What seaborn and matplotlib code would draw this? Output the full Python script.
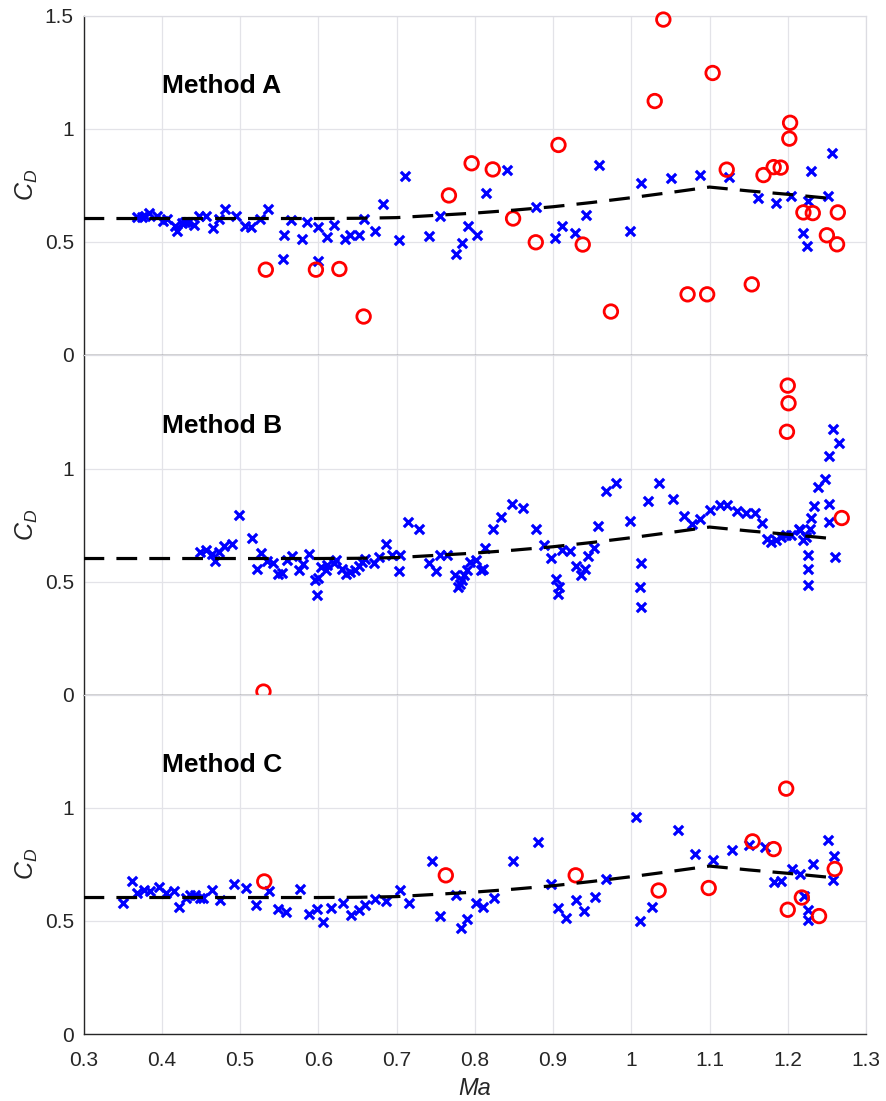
import numpy as np
import pandas as pd
import seaborn as sns
import matplotlib
matplotlib.use("Agg")
import matplotlib.pyplot as plt

# Reference curve (same in every panel)
trend_ma = [0.3, 0.4, 0.5, 0.6, 0.65, 0.7, 0.75, 0.8, 0.85, 0.9, 0.95, 1.0, 1.05, 1.1, 1.15, 1.2, 1.26]
trend_cd = [0.603, 0.603, 0.603, 0.603, 0.604, 0.607, 0.617, 0.627, 0.640, 0.655, 0.674, 0.695, 0.718, 0.742, 0.725, 0.710, 0.690]

# Method A
a_ok_ma = [0.368, 0.375, 0.379, 0.384, 0.394, 0.402, 0.407, 0.417, 0.419, 0.426,
           0.430, 0.434, 0.441, 0.448, 0.456, 0.466, 0.473, 0.481, 0.495, 0.506,
           0.514, 0.525, 0.536, 0.556, 0.555, 0.565, 0.579, 0.586, 0.600, 0.600,
           0.611, 0.620, 0.634, 0.641, 0.652, 0.659, 0.672, 0.683, 0.703, 0.711,
           0.742, 0.755, 0.776, 0.784, 0.792, 0.803, 0.814, 0.841, 0.878, 0.902,
           0.911, 0.928, 0.942, 0.959, 0.999, 1.012, 1.051, 1.088, 1.125, 1.162,
           1.185, 1.204, 1.226, 1.220, 1.225, 1.230, 1.251, 1.257]
a_ok_cd = [0.610, 0.610, 0.616, 0.628, 0.616, 0.591, 0.602, 0.569, 0.547, 0.584,
           0.587, 0.587, 0.576, 0.613, 0.613, 0.562, 0.602, 0.643, 0.616, 0.569,
           0.566, 0.602, 0.643, 0.528, 0.424, 0.596, 0.513, 0.587, 0.565, 0.414,
           0.520, 0.576, 0.513, 0.532, 0.532, 0.599, 0.550, 0.665, 0.507, 0.791,
           0.525, 0.616, 0.448, 0.495, 0.569, 0.529, 0.717, 0.816, 0.653, 0.516,
           0.569, 0.539, 0.618, 0.839, 0.547, 0.761, 0.780, 0.794, 0.788, 0.695,
           0.672, 0.702, 0.680, 0.539, 0.483, 0.813, 0.702, 0.891]
a_out_ma = [0.533, 0.597, 0.627, 0.658, 0.767, 0.796, 0.823, 0.849, 0.878, 0.907,
            0.938, 0.974, 1.030, 1.041, 1.072, 1.097, 1.104, 1.122, 1.154, 1.169,
            1.182, 1.191, 1.202, 1.203, 1.220, 1.232, 1.250, 1.264, 1.263]
a_out_cd = [0.377, 0.377, 0.380, 0.170, 0.705, 0.847, 0.820, 0.603, 0.498, 0.928,
            0.488, 0.192, 1.122, 1.482, 0.268, 0.268, 1.246, 0.819, 0.312, 0.795,
            0.830, 0.828, 0.956, 1.026, 0.630, 0.627, 0.529, 0.630, 0.489]

# Method B
b_ok_ma = [0.449, 0.456, 0.464, 0.468, 0.473, 0.479, 0.490, 0.499, 0.515, 0.522,
           0.527, 0.534, 0.542, 0.549, 0.554, 0.560, 0.566, 0.575, 0.581, 0.588,
           0.596, 0.600, 0.599, 0.604, 0.610, 0.611, 0.620, 0.623, 0.630, 0.636,
           0.641, 0.647, 0.652, 0.656, 0.660, 0.671, 0.677, 0.686, 0.694, 0.703,
           0.705, 0.715, 0.729, 0.742, 0.751, 0.756, 0.764, 0.775, 0.779, 0.781,
           0.784, 0.786, 0.790, 0.794, 0.801,
           0.808, 0.810, 0.813, 0.823, 0.834, 0.848, 0.862, 0.878, 0.889, 0.898,
           0.904, 0.908, 0.907, 0.912, 0.922, 0.929, 0.936, 0.941, 0.945, 0.953,
           0.958, 0.968, 0.980, 0.999, 1.012, 1.011, 1.012, 1.021, 1.035, 1.053,
           1.068, 1.077, 1.088, 1.100, 1.113, 1.123, 1.135, 1.147, 1.158, 1.167,
           1.174, 1.179, 1.185, 1.191, 1.198, 1.204, 1.214, 1.216, 1.219, 1.223,
           1.228, 1.230, 1.234, 1.239, 1.247, 1.226, 1.226, 1.226, 1.253, 1.258,
           1.265, 1.253, 1.253, 1.260]
b_ok_cd = [0.632, 0.639, 0.624, 0.592, 0.632, 0.657, 0.669, 0.794, 0.694, 0.558,
           0.627, 0.590, 0.583, 0.536, 0.539, 0.595, 0.613, 0.551, 0.580, 0.622,
           0.509, 0.517, 0.444, 0.565, 0.554, 0.573, 0.583, 0.595, 0.558, 0.536,
           0.543, 0.551, 0.568, 0.588, 0.602, 0.583, 0.610, 0.669, 0.620, 0.546,
           0.617, 0.765, 0.735, 0.583, 0.546, 0.617, 0.620, 0.529, 0.477, 0.491,
           0.506, 0.529, 0.551, 0.588, 0.595,
           0.551, 0.558, 0.651, 0.735, 0.787, 0.846, 0.828, 0.735, 0.661, 0.607,
           0.511, 0.477, 0.447, 0.642, 0.635, 0.570, 0.531, 0.555, 0.614, 0.651,
           0.747, 0.901, 0.937, 0.769, 0.583, 0.477, 0.388, 0.856, 0.935, 0.868,
           0.790, 0.757, 0.779, 0.819, 0.841, 0.839, 0.813, 0.806, 0.802, 0.760,
           0.691, 0.676, 0.686, 0.698, 0.709, 0.709, 0.735, 0.731, 0.686, 0.698,
           0.735, 0.780, 0.836, 0.917, 0.954, 0.617, 0.558, 0.484, 1.057, 1.175,
           1.112, 0.846, 0.765, 0.610]
b_out_ma = [0.530, 1.200, 1.201, 1.199, 1.269]
b_out_cd = [0.015, 1.367, 1.289, 1.163, 0.782]

# Method C
c_ok_ma = [0.350, 0.362, 0.368, 0.377, 0.385, 0.397, 0.406, 0.416, 0.422, 0.431,
           0.436, 0.443, 0.449, 0.453, 0.464, 0.474, 0.492, 0.508, 0.520, 0.537,
           0.549, 0.559, 0.577, 0.588, 0.598, 0.606, 0.616, 0.631, 0.642, 0.652,
           0.660, 0.673, 0.686, 0.704, 0.716, 0.746, 0.756, 0.776, 0.783, 0.790,
           0.801,
           0.810, 0.824, 0.849, 0.881, 0.898, 0.907, 0.916, 0.930, 0.940, 0.954,
           0.968, 1.006, 1.011, 1.026, 1.060, 1.081, 1.105, 1.129, 1.150, 1.171,
           1.182, 1.192, 1.205, 1.216, 1.221, 1.226, 1.226, 1.232, 1.251, 1.259,
           1.258]
c_ok_cd = [0.578, 0.677, 0.622, 0.637, 0.633, 0.649, 0.622, 0.630, 0.563, 0.600,
           0.615, 0.615, 0.600, 0.600, 0.637, 0.590, 0.662, 0.645, 0.571, 0.634,
           0.552, 0.537, 0.642, 0.531, 0.552, 0.497, 0.556, 0.581, 0.527, 0.549,
           0.571, 0.596, 0.588, 0.637, 0.578, 0.763, 0.522, 0.615, 0.468, 0.507,
           0.578,
           0.563, 0.600, 0.765, 0.848, 0.664, 0.556, 0.512, 0.590, 0.544, 0.605,
           0.686, 0.959, 0.500, 0.563, 0.903, 0.796, 0.770, 0.811, 0.833, 0.826,
           0.670, 0.677, 0.729, 0.708, 0.611, 0.549, 0.504, 0.751, 0.855, 0.788,
           0.681]
c_out_ma = [0.531, 0.763, 0.929, 1.035, 1.099, 1.155, 1.182, 1.198, 1.200, 1.218, 1.240, 1.260]
c_out_cd = [0.674, 0.701, 0.701, 0.634, 0.645, 0.851, 0.817, 1.084, 0.549, 0.603, 0.521, 0.729]

methods = ["Method A", "Method B", "Method C"]
panels = [
    (a_ok_ma, a_ok_cd, a_out_ma, a_out_cd),
    (b_ok_ma, b_ok_cd, b_out_ma, b_out_cd),
    (c_ok_ma, c_ok_cd, c_out_ma, c_out_cd),
]
x_ticks = [0.3, 0.4, 0.5, 0.6, 0.7, 0.8, 0.9, 1.0, 1.1, 1.2, 1.3]
x_labels = ["0.3", "0.4", "0.5", "0.6", "0.7", "0.8", "0.9", "1", "1.1", "1.2", "1.3"]

sns.set_style("white")
plt.rcParams["font.family"] = ["Liberation Sans", "DejaVu Sans"]
plt.rcParams["mathtext.fontset"] = "custom"
plt.rcParams["mathtext.it"] = "Liberation Sans:italic"
plt.rcParams["mathtext.rm"] = "Liberation Sans"
plt.rcParams["text.color"] = "#262626"
plt.rcParams["axes.labelcolor"] = "#262626"

fig = plt.figure(figsize=(8.86, 11.01), dpi=100)
left, width = 83.5 / 886, (866 - 83.5) / 886
h = 339.5 / 1101
bottoms = [1 - 355 / 1101, 1 - 695 / 1101, 1 - 1034 / 1101]

axes = []
for i, (name, (ok_x, ok_y, out_x, out_y)) in enumerate(zip(methods, panels)):
    ax = fig.add_axes([left, bottoms[i], width, h])
    axes.append(ax)
    ax.set_facecolor("white")

    sns.scatterplot(x=ok_x, y=ok_y, ax=ax, marker="x", color="#0000ff", s=45,
                    linewidth=2.3, zorder=3)
    sns.scatterplot(x=out_x, y=out_y, ax=ax, marker="o", s=95,
                    facecolors="none", edgecolor="#ff0000", linewidth=2.0, zorder=4)
    for coll in ax.collections:
        coll.set_clip_on(False)
    ax.collections[-1].set_facecolor("none")
    ax.collections[-1].set_edgecolor("#ff0000")

    sns.lineplot(x=trend_ma, y=trend_cd, ax=ax, color="black", linewidth=2.3,
                 sort=False, zorder=5)
    ax.lines[-1].set_dashes((6.5, 3.8))

    ax.set_xlim(0.3, 1.3)
    ax.set_ylim(0, 1.5)
    ax.set_xticks(x_ticks)
    if i == 0:
        ax.set_yticks([0, 0.5, 1, 1.5])
        ax.set_yticklabels(["0", "0.5", "1", "1.5"])
    else:
        ax.set_yticks([0, 0.5, 1])
        ax.set_yticklabels(["0", "0.5", "1"])
    if i == 2:
        ax.set_xticklabels(x_labels)
        ax.set_xlabel("Ma", fontsize=17, style="italic", labelpad=5)
    else:
        ax.set_xticklabels([])

    ax.grid(True, color="#e3e3e8", linewidth=0.9)
    ax.set_axisbelow(True)
    for side in ["top", "right"]:
        ax.spines[side].set_color("#dcdce2")
        ax.spines[side].set_linewidth(0.9)
    for side in ["left", "bottom"]:
        ax.spines[side].set_color("#262626")
        ax.spines[side].set_linewidth(1.0)
    ax.tick_params(axis="both", direction="in", length=6, width=1.0,
                   color="#262626", labelsize=15, labelcolor="#262626")
    ax.tick_params(axis="y", pad=7)
    ax.tick_params(axis="x", pad=12)
    ax.set_ylabel("$C_D$", fontsize=18, labelpad=3)

    ax.text(0.4, 1.19, name, fontsize=19, fontweight="bold", color="black",
            ha="left", va="center")

fig.savefig("out.png", dpi=100)
